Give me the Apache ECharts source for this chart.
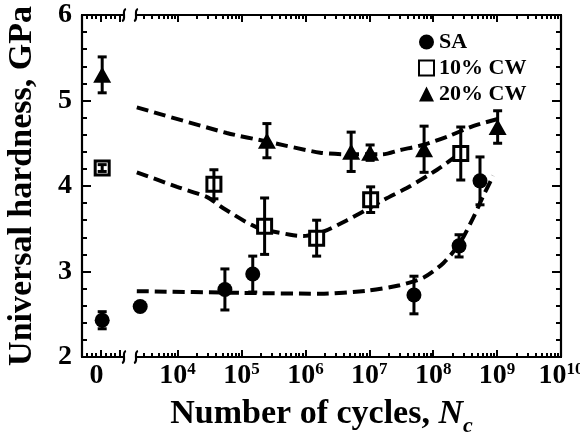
<!DOCTYPE html>
<html><head><meta charset="utf-8">
<script src="https://cdn.jsdelivr.net/npm/echarts@6/dist/echarts.min.js"></script>
<style>html,body{margin:0;padding:0;background:#fff}#c{width:580px;height:436px}</style>
</head><body><div id="c"></div>
<script>
// ---- data (N = 0 means the un-cycled specimen plotted left of the axis break) ----
const saN    = [0, 2.6e3, 5.5e4, 1.5e5, 5.0e7, 2.54e8, 5.4e8];
const saH    = [2.43, 2.59, 2.79, 2.97, 2.725, 3.30, 4.06];
const saErr  = [0.10, 0, 0.24, 0.21, 0.22, 0.13, 0.28];

const cw10N   = [0, 3.7e4, 2.3e5, 1.5e6, 1.05e7, 2.7e8];
const cw10H   = [4.21, 4.02, 3.53, 3.39, 3.84, 4.38];
const cw10Err = [0.04, 0.17, 0.33, 0.21, 0.15, 0.31];

const cw20N   = [0, 2.5e5, 5.2e6, 1.03e7, 7.2e7, 1.02e9];
const cw20H   = [5.30, 4.53, 4.40, 4.39, 4.43, 4.69];
const cw20Err = [0.21, 0.20, 0.23, 0.09, 0.27, 0.19];

// dashed trend curves
const saFitN   = [2.3e3, 1e5, 1.7e6, 9.1e6, 3.0e7, 7.1e7, 1.45e8, 2.6e8, 4.3e8, 6.0e8, 8.7e8];
const saFitH   = [2.77, 2.75, 2.74, 2.775, 2.84, 2.93, 3.10, 3.33, 3.64, 3.875, 4.12];
const cw10FitN = [2.3e3, 9.8e3, 2.9e4, 5.2e4, 1.7e5, 5.8e5, 9.3e5, 1.9e6, 4.5e6, 1.0e7, 1.7e7, 4.4e7, 1.15e8, 2.6e8];
const cw10FitH = [4.16, 3.99, 3.87, 3.74, 3.52, 3.43, 3.415, 3.465, 3.60, 3.74, 3.84, 4.00, 4.19, 4.38];
const cw20FitN = [2.3e3, 5.9e4, 2.5e5, 1.7e6, 5.0e6, 1.6e7, 3.0e7, 6.9e7, 1.7e8, 4.2e8, 1.1e9];
const cw20FitH = [4.92, 4.62, 4.52, 4.39, 4.37, 4.37, 4.42, 4.48, 4.58, 4.70, 4.79];

const seriesNames = ['SA', '10% CW', '20% CW'];
const logTickLabels = [4, 5, 6, 7, 8, 9, 10];   // 10^n labels
const yTicks = [2, 3, 4, 5, 6];

// ---- axis layout (broken x axis: "0" segment, then log10 N) ----
const X_MIN = 2.504, X_MAX = 10;
const ZERO_POS = 2.82, ZERO_LABEL_POS = 2.73;
const BREAK_A = 3.161, BREAK_B = 3.349;
const FONT = '"Liberation Serif", "Times New Roman", serif';

function xPos(n) { return n === 0 ? ZERO_POS : Math.log10(n); }
function pts(N, H) { return N.map((n, i) => [xPos(n), H[i]]); }
function errs(N, H, E) { return N.map((n, i) => [xPos(n), H[i] - E[i], H[i] + E[i], E[i]]); }

const majorX = [2.801, 3.099].concat(logTickLabels);
const minorX = [2.582, 2.660, 2.723, 2.880, 2.958, 3.020];
for (let n = 3; n < 10; n++) for (let k = 2; k <= 9; k++) {
  const v = n + Math.log10(k);
  if (v > BREAK_B && v < X_MAX) minorX.push(v);
}

const chart = echarts.init(document.getElementById('c'), null, {renderer: 'canvas'});

function errRender(params, api) {
  if (api.value(3) <= 0) return null;
  const x = api.value(0);
  const p1 = api.coord([x, api.value(2)]), p2 = api.coord([x, api.value(1)]);
  const w = 4.5, st = {stroke: '#000', lineWidth: 3};
  return {type: 'group', children: [
    {type: 'line', shape: {x1: p1[0], y1: p1[1], x2: p2[0], y2: p2[1]}, style: st},
    {type: 'line', shape: {x1: p1[0] - w, y1: p1[1], x2: p1[0] + w, y2: p1[1]}, style: st},
    {type: 'line', shape: {x1: p2[0] - w, y1: p2[1], x2: p2[0] + w, y2: p2[1]}, style: st}
  ]};
}

function frameRender(params, api) {
  const st = {stroke: '#000', lineWidth: 2.2, fill: null};
  const kids = [];
  [2, 6].forEach(yv => {
    const a = api.coord([X_MIN, yv]), b = api.coord([BREAK_A, yv]);
    const c = api.coord([BREAK_B, yv]), d = api.coord([X_MAX, yv]);
    kids.push({type: 'line', shape: {x1: a[0] - 1, y1: a[1], x2: b[0], y2: b[1]}, style: st});
    kids.push({type: 'line', shape: {x1: c[0], y1: c[1], x2: d[0] + 1, y2: d[1]}, style: st});
    [b, c].forEach(p => {
      kids.push({type: 'bezierCurve', shape: {
        x1: p[0] + 2, y1: p[1] - 6, cpx1: p[0] - 3, cpy1: p[1] - 5,
        cpx2: p[0] + 3, cpy2: p[1] + 5, x2: p[0] - 2, y2: p[1] + 6}, style: st});
    });
  });
  return {type: 'group', children: kids};
}

const tickStyle = {color: '#000', width: 2};
function xAxisDef(pos, ticks, len, withLabels) {
  const ax = {
    type: 'value', position: pos, min: X_MIN, max: X_MAX, gridIndex: 0,
    axisLine: {show: false}, splitLine: {show: false},
    axisTick: {show: true, inside: true, length: len, customValues: ticks, lineStyle: tickStyle},
    axisLabel: {show: false}
  };
  if (withLabels) {
    ax.axisLabel = {
      show: true, margin: 4,
      customValues: [ZERO_LABEL_POS].concat(logTickLabels),
      formatter: v => v < 3.5 ? '{b|0}' : '{b|10}{p|' + Math.round(v) + '}',
      rich: {
        b: {fontFamily: FONT, fontWeight: 'bold', fontSize: 28, color: '#000', lineHeight: 30},
        p: {fontFamily: FONT, fontWeight: 'bold', fontSize: 17, color: '#000', lineHeight: 17, verticalAlign: 'top'}
      }
    };
    ax.name = '{a|Number of cycles, }{i|N}{s|c}';
    ax.nameLocation = 'middle';
    ax.nameGap = 37;
    ax.nameMoveOverlap = false;
    ax.nameTextStyle = {
      rich: {
        a: {fontFamily: FONT, fontWeight: 'bold', fontSize: 34, color: '#000', lineHeight: 40},
        i: {fontFamily: FONT, fontWeight: 'bold', fontStyle: 'italic', fontSize: 34, color: '#000', lineHeight: 40},
        s: {fontFamily: FONT, fontWeight: 'bold', fontStyle: 'italic', fontSize: 22, color: '#000', lineHeight: 22, padding: [24, 0, 0, 0]}
      }
    };
  }
  return ax;
}
function yAxisDef(pos, withLabels) {
  return {
    type: 'value', position: pos, min: 2, max: 6, interval: 1,
    axisLine: {show: true, lineStyle: {color: '#000', width: 2.2}},
    axisTick: {show: true, inside: true, length: 9, lineStyle: tickStyle},
    minorTick: {show: true, splitNumber: 5, length: 5, lineStyle: tickStyle},
    splitLine: {show: false},
    axisLabel: {show: withLabels, margin: 10, fontFamily: FONT, fontWeight: 'bold', fontSize: 28, color: '#000',
      formatter: v => yTicks.indexOf(v) >= 0 ? String(v) : ''},
    name: withLabels ? 'Universal hardness, GPa' : '',
    nameLocation: 'middle', nameGap: 43, nameMoveOverlap: false,
    nameTextStyle: {fontFamily: FONT, fontWeight: 'bold', fontSize: 34, color: '#000'}
  };
}

const fitStyle = {color: '#000', width: 4, type: [12, 6], cap: 'butt'};
const fitSeries = (N, H) => ({
  type: 'line', data: pts(N, H), smooth: 0.25, showSymbol: false, symbol: 'none',
  lineStyle: fitStyle, z: 2, silent: true, xAxisIndex: 0, yAxisIndex: 0
});
const errSeries = (N, H, E) => ({
  type: 'custom', renderItem: errRender, data: errs(N, H, E), z: 6,
  encode: {x: 0, y: [1, 2]}, xAxisIndex: 0, yAxisIndex: 0, silent: true
});

chart.setOption({
  animation: false,
  backgroundColor: '#fff',
  grid: {left: 82, right: 19, top: 15, bottom: 79, containLabel: false, outerBoundsMode: 'none'},
  xAxis: [
    xAxisDef('bottom', majorX, 7, true),
    xAxisDef('bottom', minorX, 4, false),
    xAxisDef('top', majorX, 7, false),
    xAxisDef('top', minorX, 4, false)
  ],
  yAxis: [yAxisDef('left', true), yAxisDef('right', false)],
  legend: {
    orient: 'vertical', left: 413, top: 26, itemGap: 4, itemWidth: 15, itemHeight: 15, itemTextGap: 22,
    data: seriesNames,
    textStyle: {fontFamily: FONT, fontWeight: 'bold', fontSize: 22, color: '#000'}
  },
  series: [
    {type: 'custom', renderItem: frameRender, data: [[X_MIN, 2]], encode: {x: 0, y: 1}, silent: true, z: 1},
    fitSeries(saFitN, saFitH),
    fitSeries(cw10FitN, cw10FitH),
    fitSeries(cw20FitN, cw20FitH),
    {name: seriesNames[0], type: 'scatter', data: pts(saN, saH), symbol: 'circle', symbolSize: 15,
      itemStyle: {color: '#000', opacity: 1}, z: 4},
    {name: seriesNames[1], type: 'scatter', data: pts(cw10N, cw10H), symbol: 'rect', symbolSize: 14,
      itemStyle: {color: '#fff', borderColor: '#000', borderWidth: 3, opacity: 1}, z: 4},
    {name: seriesNames[2], type: 'scatter', data: pts(cw20N, cw20H), symbol: 'triangle', symbolSize: [18, 16],
      itemStyle: {color: '#000', opacity: 1}, z: 4},
    errSeries(saN, saH, saErr),
    errSeries(cw10N, cw10H, cw10Err),
    errSeries(cw20N, cw20H, cw20Err)
  ]
});
</script></body></html>
